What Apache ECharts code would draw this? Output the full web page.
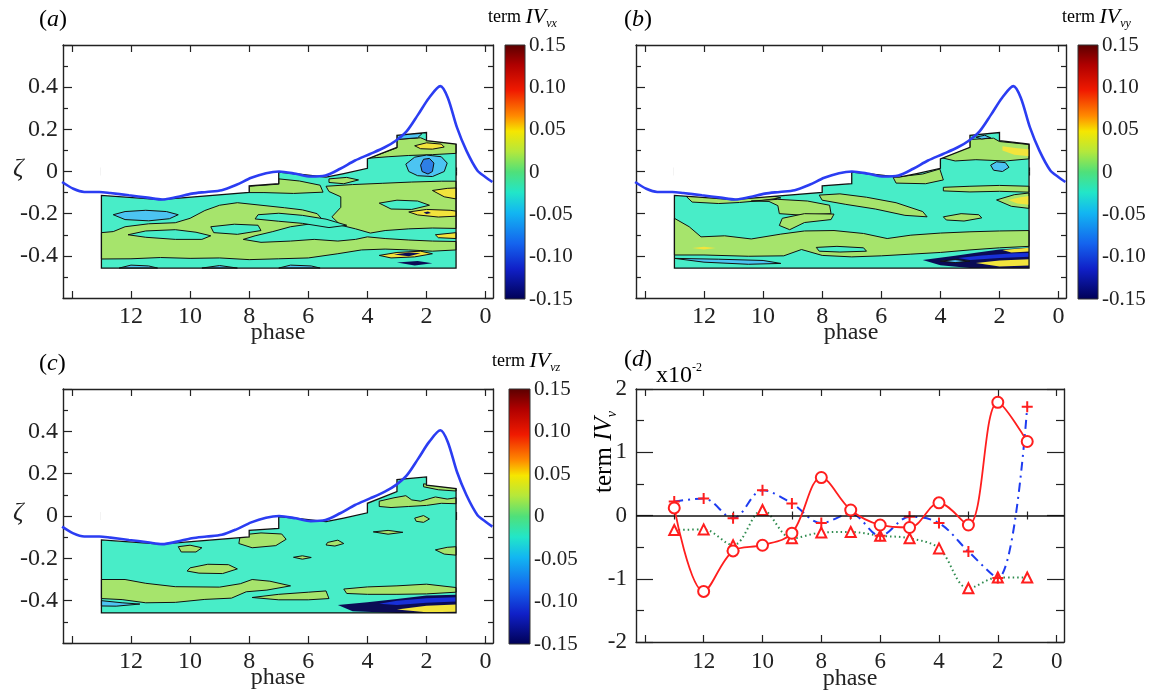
<!DOCTYPE html>
<html><head><meta charset="utf-8">
<script src="https://cdn.jsdelivr.net/npm/echarts@6/dist/echarts.min.js"></script>
<style>html,body{margin:0;padding:0;background:#fff}#c{width:1150px;height:694px}</style>
</head><body><div id="c"></div>
<script>
// ================= DATA =================
const phaseTicksMajor = [0,2,4,6,8,10,12,14];
const phaseTicksMinor = [1,3,5,7,9,11,13];
const phaseLabels = [0,2,4,6,8,10,12];
const colorbarRange = [-0.15, 0.15];

// blue curve (same in a, b, c)
const bluePhase = [14.33,13.95,13.58,13.07,12.7,12.07,11.44,10.94,10.44,9.94,9.44,8.93,8.43,7.93,7.43,6.99,6.42,5.92,5.42,4.92,4.42,3.91,3.41,3.04,2.66,2.28,1.91,1.53,1.28,0.97,0.65,0.28,0,-0.23];
const blueZeta  = [-0.05,-0.082,-0.097,-0.097,-0.102,-0.113,-0.124,-0.133,-0.121,-0.105,-0.097,-0.089,-0.063,-0.03,-0.008,0.0,-0.011,-0.024,-0.019,0.013,0.052,0.083,0.115,0.146,0.193,0.271,0.35,0.405,0.35,0.209,0.099,0.005,-0.027,-0.05];

// data region (phase 13..1)
const regionTop = [[13,-0.113],[11,-0.133],[8,-0.099],[8,-0.068],[7,-0.058],[7,-0.003],[6.3,-0.012],[5.4,-0.027],[4.8,-0.01],[4,0.015],[4,0.06],[3,0.115],[3,0.172],[2,0.185],[2,0.146],[1,0.13]];
const regionBottom = -0.458;

// ---- panel (a) contour bands ----
const aGreen = [
 [[13,-0.29],[12.6,-0.285],[12.2,-0.262],[11.4,-0.248],[10.5,-0.243],[10,-0.222],[9.5,-0.185],[9,-0.16],[8.4,-0.148],[7.6,-0.16],[6.8,-0.172],[6.2,-0.182],[5.7,-0.2],[5.5,-0.232],[6,-0.25],[6.6,-0.262],[7.2,-0.285],[7.8,-0.305],[8.2,-0.322],[7.6,-0.336],[6.6,-0.33],[5.8,-0.322],[5,-0.33],[4.4,-0.322],[4,-0.31],[3.4,-0.318],[2.6,-0.325],[1.8,-0.33],[1,-0.332],[1,-0.372],[1.8,-0.378],[2.6,-0.372],[3.4,-0.368],[4.2,-0.372],[5,-0.39],[6,-0.41],[7,-0.414],[8,-0.418],[9,-0.41],[10,-0.412],[11,-0.408],[12,-0.414],[13,-0.415]],
 [[5.4,-0.07],[4.5,-0.062],[3.5,-0.056],[2.5,-0.05],[1.5,-0.046],[1,-0.046],[1,-0.27],[1.8,-0.268],[2.6,-0.272],[3.4,-0.28],[3.9,-0.292],[4.4,-0.272],[4.9,-0.255],[5.2,-0.215],[4.9,-0.17],[4.9,-0.12],[5.3,-0.095]],
 [[3.95,0.063],[3,0.112],[3,0.152],[2.2,0.16],[2,0.148],[1,0.132],[1,0.086],[1.8,0.08],[2.6,0.076],[3.3,0.07]],
 [[8,-0.07],[7,-0.06],[7,-0.035],[6.3,-0.045],[5.6,-0.065],[5.5,-0.098],[6.5,-0.104],[7.5,-0.1],[8,-0.1]],
 [[5.3,-0.035],[4.7,-0.028],[4.3,-0.04],[4.8,-0.058],[5.3,-0.052]]
];
const aCyan = [
 [[12.1,-0.3],[11.5,-0.282],[10.5,-0.276],[9.8,-0.288],[9.3,-0.305],[9.6,-0.322],[10.5,-0.322],[11.5,-0.312]],
 [[9.3,-0.262],[8.5,-0.25],[7.7,-0.255],[7.6,-0.28],[8.4,-0.298],[9.2,-0.29]],
 [[7.7,-0.205],[7,-0.198],[6.2,-0.208],[5.4,-0.226],[4.7,-0.255],[5.3,-0.266],[6.2,-0.246],[7,-0.236],[7.8,-0.225]],
 [[3.6,-0.15],[3,-0.136],[2.3,-0.14],[1.9,-0.16],[2.5,-0.18],[3.2,-0.178]]
];
const aLightBlue = [
 [[12.6,-0.205],[12.2,-0.19],[11.5,-0.184],[10.8,-0.19],[10.4,-0.205],[10.7,-0.224],[11.4,-0.234],[12.2,-0.228]],
 [[2.7,0.035],[2.4,0.068],[2,0.078],[1.5,0.07],[1.3,0.04],[1.4,0.0],[1.8,-0.024],[2.3,-0.02],[2.6,0.0]],
 [[3,0.152],[2.3,0.16],[2.15,0.18],[3,0.18]],
 [[12.4,-0.458],[12,-0.444],[11.4,-0.448],[11.1,-0.458]],
 [[9.6,-0.458],[9,-0.446],[8.4,-0.458]],
 [[7,-0.458],[6.6,-0.444],[5.9,-0.448],[5.6,-0.458]]
];
const aBlue = [
 [[2.2,0.03],[2.1,0.058],[1.9,0.062],[1.75,0.04],[1.8,0.0],[1.95,-0.012],[2.15,0.0]]
];
const aYellow = [
 [[2.4,0.122],[2,0.136],[1.5,0.13],[1.4,0.116],[1.8,0.106],[2.2,0.108]],
 [[1.8,-0.09],[1.3,-0.08],[1,-0.078],[1,-0.13],[1.4,-0.12]],
 [[2.6,-0.192],[2,-0.18],[1.2,-0.184],[1,-0.188],[1,-0.212],[1.6,-0.216],[2.3,-0.206]],
 [[1.7,-0.3],[1,-0.29],[1,-0.318],[1.6,-0.314]],
 [[3.6,-0.398],[3,-0.384],[2.2,-0.378],[1.8,-0.39],[2.4,-0.405],[3.2,-0.41]]
];
const aDark = [
 [[3.1,-0.394],[2.6,-0.384],[2.2,-0.388],[2.6,-0.402]],
 [[3,-0.432],[2.3,-0.424],[1.8,-0.435],[2.4,-0.446]],
 [[2.1,-0.195],[1.95,-0.19],[1.85,-0.197],[2,-0.202]]
];

// ---- panel (b) ----
const bGreen = [
 [[12.6,-0.118],[12.4,-0.145],[11.5,-0.152],[10.8,-0.147],[10,-0.137],[9.4,-0.125],[9.8,-0.112],[11,-0.12],[12,-0.116]],
 [[10.4,-0.14],[9.8,-0.142],[9.5,-0.162],[9.45,-0.2],[8.7,-0.207],[7.7,-0.2],[7.75,-0.16],[8.5,-0.14],[9.5,-0.132]],
 [[8.1,-0.112],[7.4,-0.106],[6.5,-0.122],[5.5,-0.148],[4.6,-0.19],[4.45,-0.215],[5.2,-0.208],[6.2,-0.178],[7.2,-0.156],[8,-0.136]],
 [[13,-0.222],[12.5,-0.262],[12.1,-0.31],[11.3,-0.305],[10.4,-0.32],[9.4,-0.297],[8.6,-0.282],[7.6,-0.28],[6.6,-0.294],[5.8,-0.318],[5,-0.302],[4,-0.292],[3,-0.286],[2,-0.282],[1,-0.28],[1,-0.355],[2,-0.362],[3,-0.372],[4,-0.384],[5,-0.392],[6,-0.4],[7,-0.405],[8,-0.398],[8.7,-0.37],[9.3,-0.4],[10.5,-0.402],[12,-0.396],[13,-0.396]],
 [[9.35,-0.222],[8.6,-0.2],[7.6,-0.202],[7.7,-0.228],[8.6,-0.242],[9.1,-0.276],[9.45,-0.256]],
 [[5.6,-0.028],[4.6,-0.012],[4.02,0.012],[3.9,-0.04],[4.5,-0.058],[5.5,-0.055]],
 [[3.98,0.066],[3,0.116],[3,0.152],[2.2,0.158],[2,0.142],[1,0.128],[1,0.06],[1.8,0.05],[2.8,0.056],[3.5,0.05]],
 [[3.9,-0.075],[3,-0.07],[2,-0.066],[1,-0.07],[1,-0.098],[2,-0.094],[3,-0.097],[3.9,-0.092]],
 [[2.1,-0.135],[1.5,-0.11],[1,-0.102],[1,-0.175],[1.6,-0.165]],
 [[3.9,-0.215],[3.3,-0.2],[2.7,-0.205],[2.6,-0.22],[3.2,-0.235],[3.8,-0.23]]
];
const bCyan = [
 [[8.2,-0.36],[7.5,-0.355],[6.6,-0.362],[6.5,-0.378],[7.4,-0.382],[8.1,-0.378]]
];
const bDark = [
 [[4.6,-0.42],[3.5,-0.4],[2.8,-0.385],[2,-0.37],[1,-0.36],[1,-0.458],[3,-0.458],[4,-0.445]]
];
const bLightBlue = [
 [[2.3,0.03],[2.1,0.046],[1.8,0.042],[1.68,0.02],[1.9,0.0],[2.2,0.006]],
 [[13,-0.412],[12,-0.43],[10.5,-0.44],[9.4,-0.436],[10,-0.422],[11.5,-0.416]],
 [[2.8,0.163],[2.5,0.172],[2.3,0.16],[2.6,0.154]],
 [[4,-0.425],[3.5,-0.418],[3,-0.425],[3.5,-0.432]]
];
const bBlue = [
 [[3.4,-0.41],[2.6,-0.398],[1.5,-0.388],[1,-0.386],[1,-0.404],[2,-0.41],[3,-0.42]]
];
const bYellow = [
 [[1.7,-0.135],[1.3,-0.122],[1,-0.116],[1,-0.158],[1.4,-0.152]],
 [[12.4,-0.363],[12,-0.357],[11.6,-0.363],[12,-0.37]],
 [[1.9,0.12],[1.4,0.11],[1,0.105],[1,0.072],[1.5,0.08],[1.9,0.1]],
 [[2.8,-0.434],[2,-0.422],[1,-0.416],[1,-0.446],[2,-0.45]],
 [[1.9,-0.372],[1,-0.362],[1,-0.38],[1.6,-0.384]]
];

// ---- panel (c) ----
const cGreen = [
 [[8.3,-0.09],[7.6,-0.08],[6.9,-0.085],[6.75,-0.11],[7.1,-0.14],[7.9,-0.15],[8.35,-0.13]],
 [[10.4,-0.145],[10,-0.138],[9.6,-0.15],[9.8,-0.17],[10.3,-0.17]],
 [[10,-0.245],[9.4,-0.228],[8.7,-0.23],[8.4,-0.25],[8.9,-0.272],[9.7,-0.27],[10.1,-0.26]],
 [[5.35,-0.125],[5,-0.114],[4.8,-0.13],[5.1,-0.142],[5.4,-0.137]],
 [[3.6,0.07],[3.1,0.086],[2.7,0.096],[2.5,0.076],[2.2,0.07],[1.7,0.09],[1.3,0.08],[1,0.086],[1,0.058],[1.5,0.06],[2,0.05],[2.6,0.045],[3.2,0.04],[3.6,0.045]],
 [[2.1,0.152],[1.5,0.142],[1,0.134],[1,0.118],[1.6,0.124],[2.1,0.138]],
 [[1.7,-0.16],[1.3,-0.148],[1,-0.145],[1,-0.185],[1.4,-0.18]],
 [[3.8,-0.075],[3.3,-0.068],[2.8,-0.077],[3.3,-0.086]],
 [[2.4,-0.01],[2.1,0.002],[1.9,-0.014],[2.1,-0.03],[2.35,-0.025]],
 [[6.5,-0.195],[6.2,-0.188],[5.9,-0.196],[6.2,-0.204]],
 [[13,-0.3],[12.2,-0.3],[11.5,-0.318],[10.5,-0.334],[9,-0.336],[8.3,-0.32],[7.9,-0.3],[7.3,-0.308],[6.6,-0.33],[7.4,-0.35],[8.1,-0.358],[8.6,-0.388],[9.5,-0.394],[10.5,-0.408],[11.5,-0.41],[12.3,-0.395],[13,-0.39]],
 [[7.9,-0.385],[7,-0.37],[6,-0.36],[5.4,-0.354],[5.3,-0.39],[6,-0.396],[7,-0.396]],
 [[4.8,-0.345],[4,-0.335],[3,-0.33],[2,-0.322],[1,-0.338],[1,-0.36],[2,-0.368],[3,-0.37],[4,-0.37],[4.7,-0.366]]
];
const cCyan = [];
const cDark = [
 [[5,-0.42],[4,-0.408],[3,-0.392],[2,-0.376],[1,-0.372],[1,-0.458],[3,-0.458],[4.5,-0.45]]
];
const cLightBlue = [
 [[13,-0.4],[12.3,-0.41],[11.7,-0.416],[12.5,-0.426],[13,-0.425]]
];
const cBlue = [
 [[3.6,-0.414],[3,-0.4],[2,-0.388],[1,-0.384],[1,-0.404],[2,-0.41],[3,-0.42]]
];
const cYellow = [
 [[3,-0.442],[2,-0.424],[1,-0.418],[1,-0.452],[2,-0.455]]
];

// ---- panel (d): term IV_v (x10^-2) ----
const dPhase    = [13,12,11,10,9,8,7,6,5,4,3,2,1];
const dCircle   = [0.12,-1.2,-0.56,-0.47,-0.28,0.6,0.087,-0.15,-0.19,0.2,-0.15,1.79,1.17];
const dPlus     = [0.22,0.27,-0.045,0.4,0.19,-0.12,0.03,-0.32,-0.02,-0.12,-0.57,-0.99,1.72];
const dTriangle = [-0.23,-0.22,-0.47,0.087,-0.36,-0.27,-0.26,-0.32,-0.36,-0.52,-1.15,-0.98,-0.98];

// ================= STYLE / BUILD =================
const FONT = 'Liberation Serif';
const CYAN='#48EDC8', GREEN='#A6E46C', LBLUE='#4CC4F2', BLUE='#2E7FE6', YELLOW='#F2E43C', DARK='#0B0B55';
const INK = '#222';

const grids = [
 {left:63, top:45, width:430, height:253},
 {left:636, top:45, width:430, height:253},
 {left:63, top:389, width:430, height:254},
 {left:636, top:389, width:428, height:253},
 {left:505, top:45, width:20, height:254},
 {left:1078, top:45, width:20, height:254},
 {left:509, top:389, width:21, height:255}
];

const xAxes = [], yAxes = [];
function addPanelAxes(g, c) {
  const base = {type:'value', gridIndex:g, min:-0.25, max:14.3, inverse:true, splitLine:{show:false}};
  const line = {show:true, onZero:false, lineStyle:{color:INK, width:1.4}};
  const ts = {color:INK, width:1.2};
  xAxes.push(Object.assign({}, base, {position:'bottom', axisLine:line,
    axisTick:{show:true, inside:true, length:c.xMajor, customValues:phaseTicksMajor, lineStyle:ts},
    axisLabel:{show:true, customValues:phaseLabels, fontSize:c.fs, fontFamily:FONT, color:INK, margin:c.xMargin},
    name:'phase', nameLocation:'middle', nameGap:c.nameGap, nameMoveOverlap:false,
    nameTextStyle:{fontSize:24, fontFamily:FONT, color:INK}}));
  xAxes.push(Object.assign({}, base, {position:'bottom', axisLine:{show:false},
    axisTick:{show:true, inside:true, length:c.xMinor, customValues:phaseTicksMinor, lineStyle:ts}, axisLabel:{show:false}}));
  xAxes.push(Object.assign({}, base, {position:'top', axisLine:line,
    axisTick:{show:true, inside:true, length:c.xMajor, customValues:phaseTicksMajor, lineStyle:ts}, axisLabel:{show:false}}));
  xAxes.push(Object.assign({}, base, {position:'top', axisLine:{show:false},
    axisTick:{show:true, inside:true, length:c.xMinor, customValues:phaseTicksMinor, lineStyle:ts}, axisLabel:{show:false}}));
  const ybase = {type:'value', gridIndex:g, min:c.ymin, max:c.ymax, interval:c.yint, splitLine:{show:false}, minorSplitLine:{show:false}};
  yAxes.push(Object.assign({}, ybase, {position:'left', axisLine:line,
    axisTick:{show:true, inside:true, length:c.yMajor, lineStyle:ts},
    minorTick:{show:true, splitNumber:2, length:c.yMinor, lineStyle:ts},
    axisLabel:{show:c.yLabels, showMinLabel:c.yMinMax, showMaxLabel:c.yMinMax, formatter:c.yFmt, fontSize:c.fs, fontFamily:FONT, color:INK, margin:c.yMargin}}));
  yAxes.push(Object.assign({}, ybase, {position:'right', axisLine:line,
    axisTick:{show:true, inside:true, length:c.yMajor, lineStyle:ts},
    minorTick:{show:true, splitNumber:2, length:c.yMinor, lineStyle:ts}, axisLabel:{show:false}}));
}
const zetaFmt = v => Math.abs(v) < 1e-9 ? '0' : String(Math.round(v*10)/10);
const contourCfg = yl => ({fs:24, xMajor:7, xMinor:4, xMargin:7, nameGap:23, ymin:-0.6, ymax:0.6, yint:0.2, yMajor:9, yMinor:5, yLabels:yl, yMinMax:false, yFmt:zetaFmt, yMargin:5});
addPanelAxes(0, contourCfg(true));
addPanelAxes(1, contourCfg(false));
addPanelAxes(2, contourCfg(true));
addPanelAxes(3, {fs:23, xMajor:7, xMinor:4, xMargin:8, nameGap:25, ymin:-2, ymax:2, yint:1, yMajor:17, yMinor:8, yLabels:true, yMinMax:true, yFmt:v=>String(Math.round(v)), yMargin:9});
// colorbar axes
for (let k = 0; k < 3; k++) {
  xAxes.push({type:'value', gridIndex:4+k, min:0, max:1, show:false});
  yAxes.push({type:'value', gridIndex:4+k, min:colorbarRange[0], max:colorbarRange[1], interval:0.05, position:'right',
    axisLine:{show:false}, axisTick:{show:false}, splitLine:{show:false},
    axisLabel:{fontSize:21, fontFamily:FONT, color:INK, margin:4, formatter:v=>Math.abs(v)<1e-9?'0':v.toFixed(2)}});
}

const regionPoly = [[13,regionBottom]].concat(regionTop).concat([[1,regionBottom]]);
const maskPoly = regionTop.slice().concat([[0.97,0.13],[0.97,0.3],[13.03,0.3],[13.03,-0.113]]);

function panelShapes(groups) {
  const list = [{pts:regionPoly, fill:CYAN, stroke:null}];
  groups.forEach(([arr, fill, stroke]) => arr.forEach(p => list.push({pts:p, fill:fill, stroke:stroke})));
  list.push({pts:maskPoly, fill:'#fff', stroke:null});
  list.push({pts:regionPoly, fill:null, stroke:'#111', lw:1.3});
  return list;
}
const EDGE = '#111';
const panels = [
  panelShapes([[aGreen,GREEN,EDGE],[aCyan,CYAN,EDGE],[aLightBlue,LBLUE,EDGE],[aBlue,BLUE,EDGE],[aYellow,YELLOW,EDGE],[aDark,DARK,null]]),
  panelShapes([[bGreen,GREEN,EDGE],[bCyan,CYAN,EDGE],[bDark,DARK,null],[bLightBlue,LBLUE,EDGE],[bBlue,'#1830D8',null],[bYellow,YELLOW,null]]),
  panelShapes([[cGreen,GREEN,EDGE],[cCyan,CYAN,EDGE],[cDark,DARK,null],[cLightBlue,LBLUE,EDGE],[cBlue,'#1830D8',null],[cYellow,YELLOW,null]])
];

const series = [];
panels.forEach((shapes, g) => {
  series.push({type:'custom', xAxisIndex:g*4, yAxisIndex:g*2, z:2, silent:true,
    data: shapes.map((s,i) => [i, 0]),
    renderItem: (params, api) => {
      const i = api.value(0);
      const s = shapes[i];
      return {type:'polygon', z2:i, shape:{points:s.pts.map(p => api.coord(p))},
        style:{fill:s.fill || 'none', stroke:s.stroke || null, lineWidth:s.lw || 1}};
    }});
  series.push({type:'line', xAxisIndex:g*4, yAxisIndex:g*2, z:5, silent:true, smooth:0.3, symbol:'none',
    lineStyle:{color:'#2B3DF2', width:2.6},
    data: bluePhase.map((p,i) => [p, blueZeta[i]])});
});

// colorbars
const jetStops = [
 {offset:0, color:'#5a0000'},{offset:0.08, color:'#b00000'},{offset:0.18, color:'#f01a00'},
 {offset:0.28, color:'#ff8a00'},{offset:0.34, color:'#f6e600'},{offset:0.42, color:'#b4e83c'},
 {offset:0.5, color:'#4fe07a'},{offset:0.58, color:'#22e6c8'},{offset:0.66, color:'#12b6f2'},
 {offset:0.78, color:'#1464ee'},{offset:0.88, color:'#1020c8'},{offset:1, color:'#000055'}];
for (let k = 0; k < 3; k++) {
  series.push({type:'custom', xAxisIndex:16+k, yAxisIndex:8+k, silent:true,
    data:[[0, colorbarRange[0]]],
    renderItem:(params, api) => {
      const p0 = api.coord([0, colorbarRange[1]]), p1 = api.coord([1, colorbarRange[0]]);
      return {type:'rect', shape:{x:p0[0], y:p0[1], width:p1[0]-p0[0], height:p1[1]-p0[1]},
        style:{fill:new echarts.graphic.LinearGradient(0,0,0,1,jetStops), stroke:'#333', lineWidth:1}};
    }});
}

// panel (d)
const RED = '#FF1E1E';
const plusPath = 'path://M0,5L10,5M5,0L5,10';
series.push({type:'line', xAxisIndex:12, yAxisIndex:6, z:3, smooth:0.35, silent:true,
  data: dPhase.map((p,i)=>[p, dTriangle[i]]),
  lineStyle:{color:'#2E8B4E', width:2, type:[1.5,3]},
  symbol:'emptyTriangle', symbolSize:10, itemStyle:{color:RED, borderWidth:1.5},
  markLine:{silent:true, symbol:'none', label:{show:false}, lineStyle:{color:'#111', width:1.6, type:'solid'}, data:[{yAxis:0}]}});
series.push({type:'line', xAxisIndex:12, yAxisIndex:6, z:4, smooth:0.35, silent:true,
  data: dPhase.map((p,i)=>[p, dPlus[i]]),
  lineStyle:{color:'#1E3CF0', width:2, type:[9,5,2,5]},
  symbol:plusPath, symbolSize:11, itemStyle:{color:'none', borderColor:RED, borderWidth:2}});
series.push({type:'line', xAxisIndex:12, yAxisIndex:6, z:5, smooth:0.35, silent:true,
  data: dPhase.map((p,i)=>[p, dCircle[i]]),
  lineStyle:{color:RED, width:1.8},
  symbol:'emptyCircle', symbolSize:11, itemStyle:{color:RED, borderWidth:1.8}});

// texts
const rs = {fontFamily:FONT, color:INK};
function panelLabel(t, x, y) {
  return {type:'text', left:x, top:y, style:{text:'{p|(}{i|'+t+'}{p|)}', rich:{
    p:Object.assign({fontSize:24, lineHeight:28}, rs), i:Object.assign({fontSize:24, fontStyle:'italic', lineHeight:28}, rs)}}};
}
function termTitle(sub, x, y) {
  return {type:'text', left:x, top:y, style:{text:'{r|term }{i|IV}{s|'+sub+'}', rich:{
    r:Object.assign({fontSize:18, lineHeight:26, verticalAlign:'middle'}, rs),
    i:Object.assign({fontSize:22, fontStyle:'italic', lineHeight:26, verticalAlign:'middle'}, rs),
    s:Object.assign({fontSize:12, fontStyle:'italic', lineHeight:11, verticalAlign:'bottom'}, rs)}}};
}
const graphic = [
  panelLabel('a', 39, 8), panelLabel('b', 624, 8), panelLabel('c', 39, 352), panelLabel('d', 624, 348),
  termTitle('vx', 488, 6), termTitle('vy', 1062, 6), termTitle('vz', 492, 350),
  {type:'text', left:13, top:156, style:{text:'ζ', font:'italic 26px Liberation Serif', fill:INK}},
  {type:'text', left:13, top:500, style:{text:'ζ', font:'italic 26px Liberation Serif', fill:INK}},
  {type:'text', left:656, top:362, style:{text:'{n|x10}{p|-2}', rich:{
    n:Object.assign({fontSize:24, lineHeight:26, verticalAlign:'bottom'}, rs),
    p:Object.assign({fontSize:12, lineHeight:12, verticalAlign:'top'}, rs)}}},
  {type:'text', x:604, y:452, rotation:Math.PI/2, style:{text:'{r|term }{i|IV}{s|v}', align:'center', verticalAlign:'middle', rich:{
    r:Object.assign({fontSize:25, lineHeight:30, verticalAlign:'middle'}, rs),
    i:Object.assign({fontSize:25, fontStyle:'italic', lineHeight:30, verticalAlign:'middle'}, rs),
    s:Object.assign({fontSize:14, fontStyle:'italic', lineHeight:14, verticalAlign:'bottom'}, rs)}}}
];

const chart = echarts.init(document.getElementById('c'), null, {renderer:'canvas'});
chart.setOption({animation:false, backgroundColor:'#fff', grid:grids, xAxis:xAxes, yAxis:yAxes, series:series, graphic:graphic});
</script>
</body></html>
